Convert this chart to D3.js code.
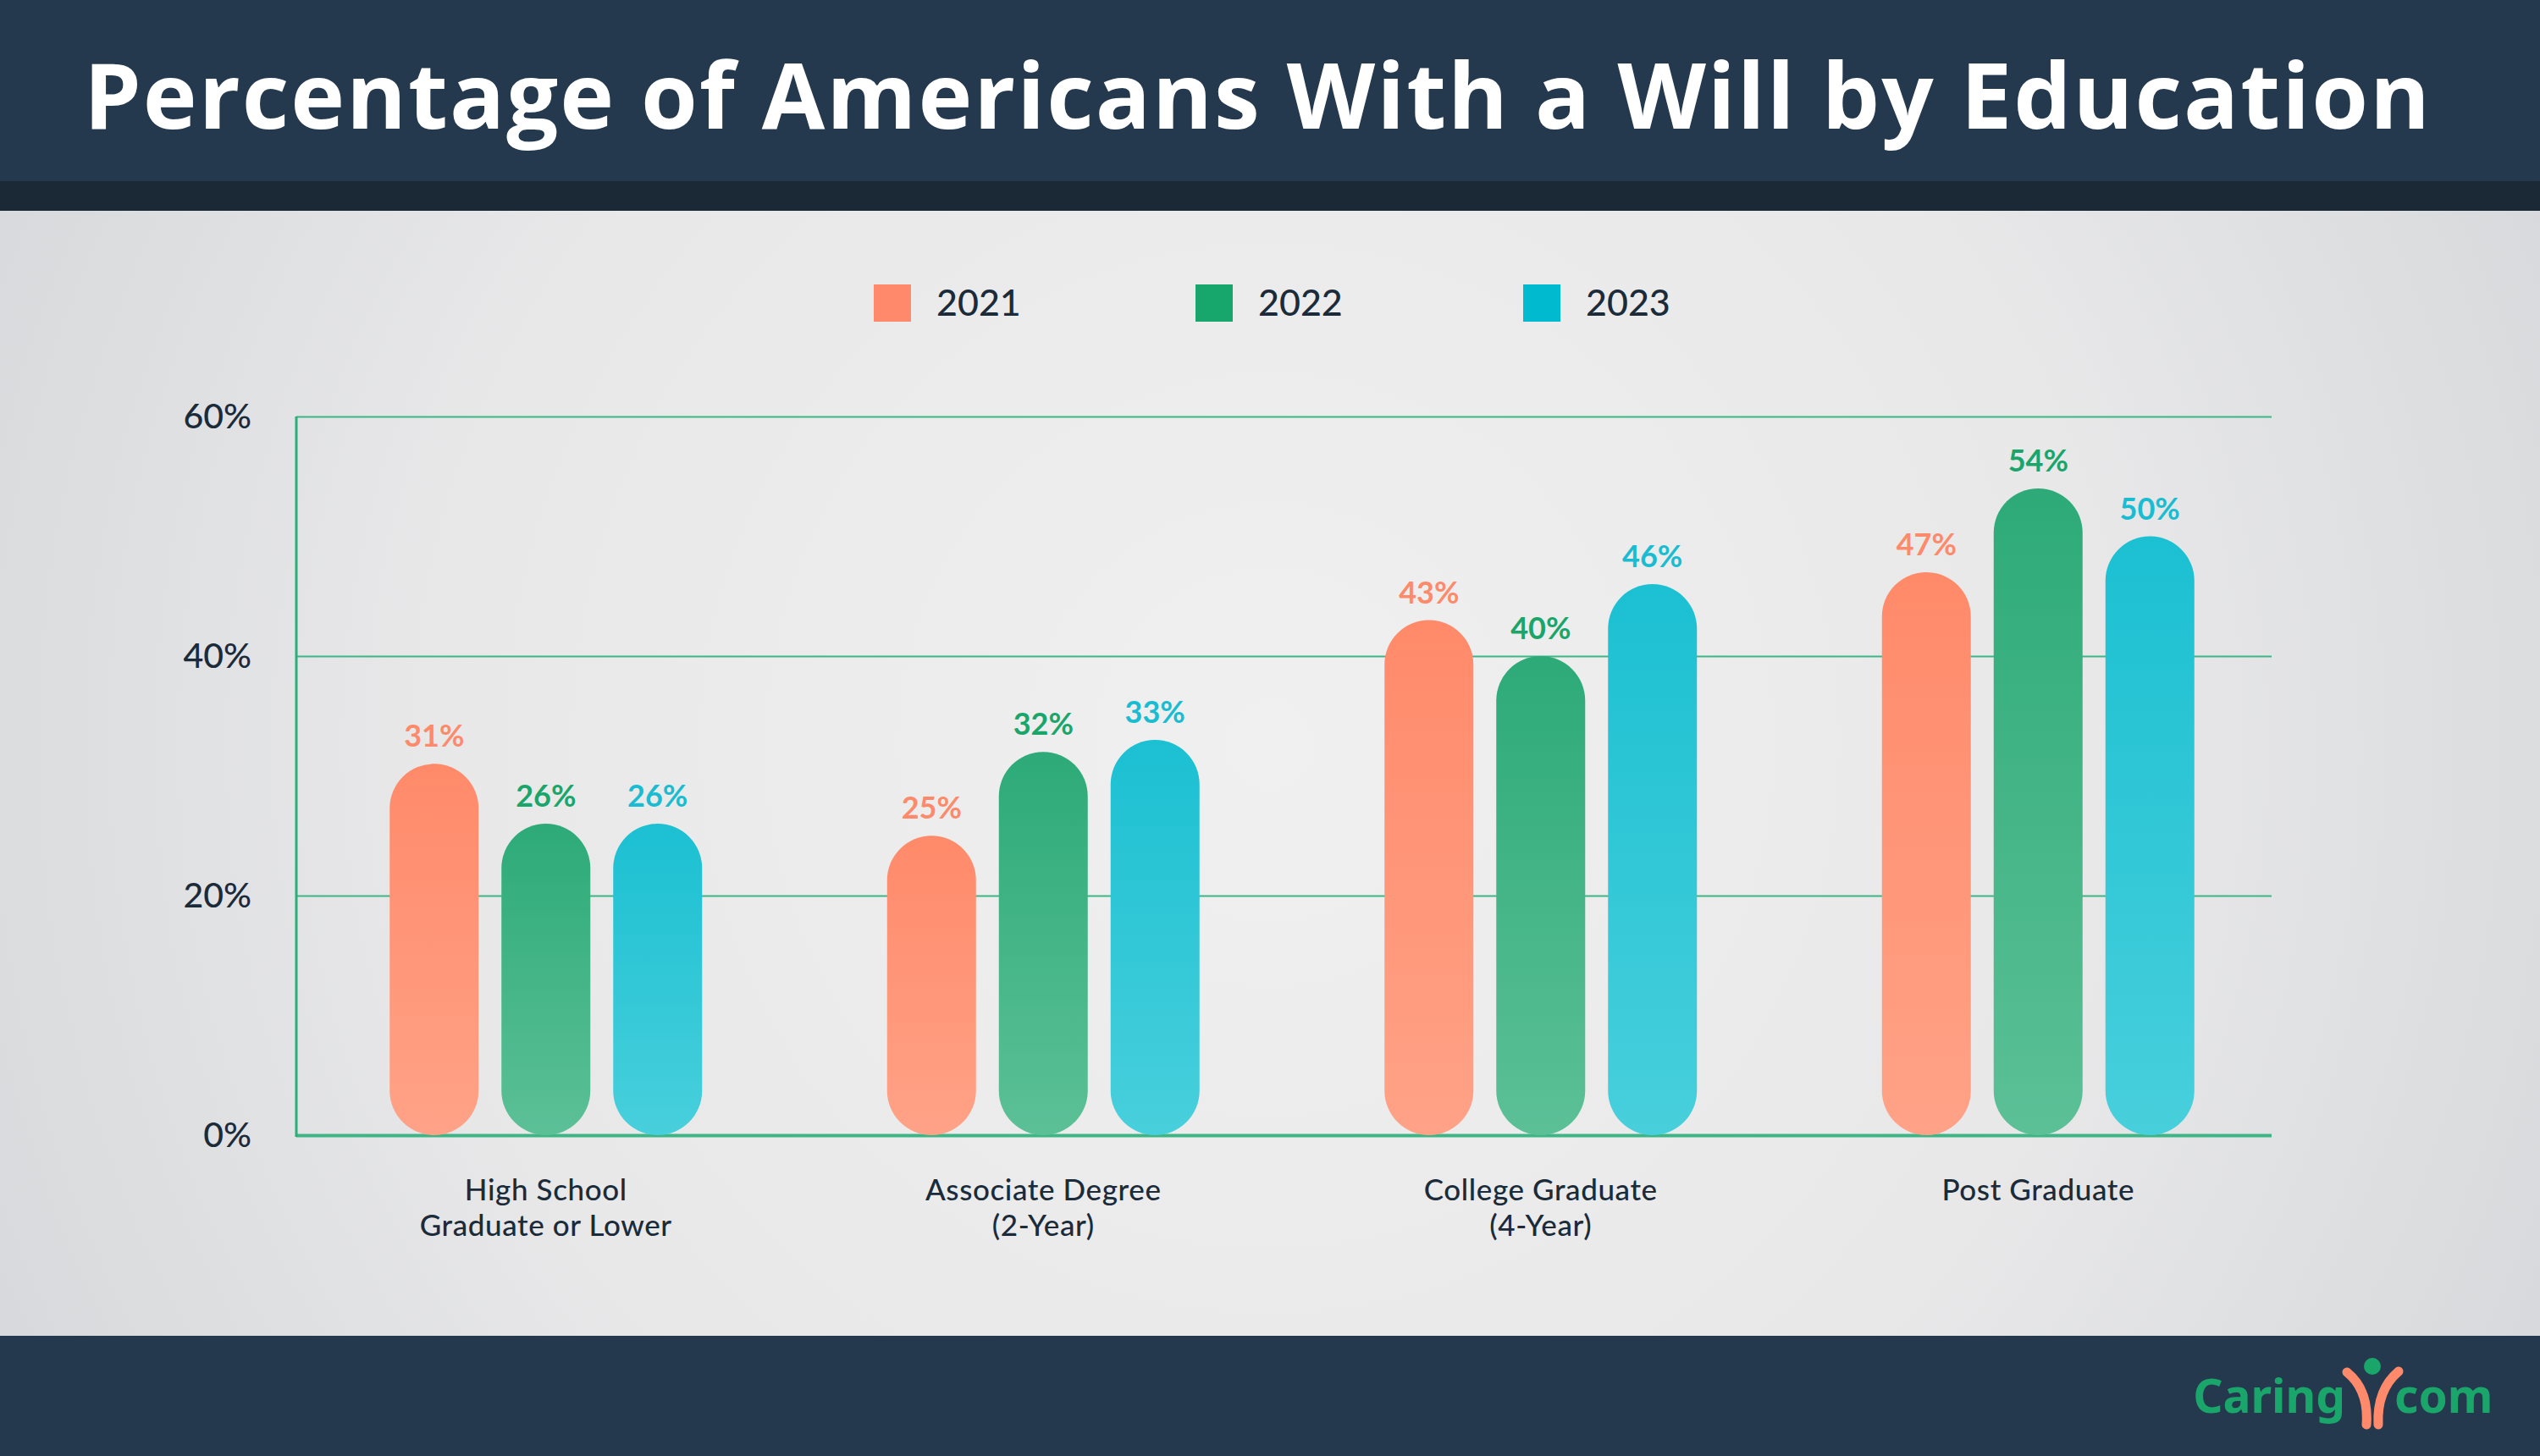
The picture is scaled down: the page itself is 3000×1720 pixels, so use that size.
<!DOCTYPE html>
<html>
<head>
<meta charset="utf-8">
<script src="https://cdn.jsdelivr.net/npm/d3@7"></script>
<style>
  html, body { margin: 0; padding: 0; background: #e6e6e7; }
  svg { display: block; }
</style>
</head>
<body>
<svg id="chart" width="3000" height="1720"></svg>
<script>
// ---- data ----
const categories = [
  ["High School", "Graduate or Lower"],
  ["Associate Degree", "(2-Year)"],
  ["College Graduate", "(4-Year)"],
  ["Post Graduate"]
];
const seriesNames = ["2021", "2022", "2023"];
const values2021 = [31, 25, 43, 47];
const values2022 = [26, 32, 40, 54];
const values2023 = [26, 33, 46, 50];
const yTicks = [0, 20, 40, 60];
const titleText = "Percentage of Americans With a Will by Education";

const seriesValues = [values2021, values2022, values2023];
const solid = ["#ff8a6b", "#17a66b", "#00bacf"];
const labelColors = ["#ff8a6b", "#1aa66b", "#19bcd1"];
const gradTop = ["#ff8a6a", "#2daa78", "#1bc0d2"];
const gradBot = ["#ffa287", "#5cc097", "#48cfdc"];

const svg = d3.select("#chart");
const W = 3000, H = 1720;
const defs = svg.append("defs");

// background gradient
const bg = defs.append("radialGradient").attr("id", "bg")
  .attr("gradientUnits", "userSpaceOnUse")
  .attr("cx", 1500).attr("cy", 880).attr("r", 1650);
bg.append("stop").attr("offset", "0").attr("stop-color", "#f0f0f0");
bg.append("stop").attr("offset", "0.6").attr("stop-color", "#e8e8e9");
bg.append("stop").attr("offset", "1").attr("stop-color", "#d8d9dc");

seriesNames.forEach((s, i) => {
  const g = defs.append("linearGradient").attr("id", "g" + i)
    .attr("x1", 0).attr("y1", 0).attr("x2", 0).attr("y2", 1);
  g.append("stop").attr("offset", "0").attr("stop-color", gradTop[i]);
  g.append("stop").attr("offset", "1").attr("stop-color", gradBot[i]);
});

svg.append("rect").attr("x", 0).attr("y", 0).attr("width", W).attr("height", H).attr("fill", "url(#bg)");

// header
svg.append("rect").attr("x", 0).attr("y", 0).attr("width", W).attr("height", 214).attr("fill", "#24384e");
svg.append("rect").attr("x", 0).attr("y", 214).attr("width", W).attr("height", 35).attr("fill", "#1b2937");
// footer
svg.append("rect").attr("x", 0).attr("y", 1578).attr("width", W).attr("height", H - 1578).attr("fill", "#24384e");

const FONT = "Lato, 'Noto Sans', sans-serif";

// title
const title = svg.append("text")
  .attr("x", 99).attr("y", 152)
  .attr("fill", "#ffffff")
  .style("font-family", "'Open Sans', 'Noto Sans', sans-serif")
  .style("font-weight", 700)
  .style("font-size", "108px")
  .text(titleText);
{
  const target = 2771;
  const w = title.node().getComputedTextLength();
  const ls = (target - w) / (titleText.length - 1);
  title.style("letter-spacing", ls + "px");
}

// scales
const x0 = d3.scaleBand().domain(d3.range(categories.length)).range([351, 2701]).padding(0);
const y = d3.scaleLinear().domain([0, 60]).range([1341, 492]);
const barW = 105, barStep = 132;
const axisLeftX = 350, axisRightX = 2683;

// gridlines
const grid = svg.append("g").attr("transform", `translate(${axisLeftX},0)`)
  .call(d3.axisLeft(y).tickValues(yTicks).tickSize(-(axisRightX - axisLeftX)).tickFormat(""));
grid.select(".domain").remove();
grid.selectAll(".tick line")
  .attr("stroke", "#3db585")
  .attr("stroke-width", d => d === 0 ? 4 : 2);

// vertical axis line
svg.append("line").attr("x1", axisLeftX).attr("x2", axisLeftX)
  .attr("y1", y(60)).attr("y2", y(0) + 2)
  .attr("stroke", "#2bae78").attr("stroke-width", 3);

// y tick labels
const yAx = svg.append("g").attr("transform", `translate(${axisLeftX},0)`)
  .call(d3.axisLeft(y).tickValues(yTicks).tickSize(0).tickPadding(53).tickFormat(d => d + "%"));
yAx.select(".domain").remove();
yAx.selectAll(".tick text")
  .attr("fill", "#1b2b3a")
  .style("font-family", FONT)
  .style("font-weight", 500)
  .style("font-size", "41px");

// bars
const groups = svg.append("g").selectAll("g").data(categories).join("g")
  .attr("transform", (d, i) => `translate(${x0(i) + x0.bandwidth() / 2},0)`);

seriesNames.forEach((s, si) => {
  const off = (si - 1) * barStep;
  groups.append("rect")
    .attr("x", off - barW / 2)
    .attr("width", barW)
    .attr("y", (d, ci) => y(seriesValues[si][ci]))
    .attr("height", (d, ci) => y(0) - y(seriesValues[si][ci]))
    .attr("rx", barW / 2).attr("ry", barW / 2)
    .attr("fill", `url(#g${si})`);
  groups.append("text")
    .attr("x", off)
    .attr("y", (d, ci) => y(seriesValues[si][ci]) - 20)
    .attr("text-anchor", "middle")
    .attr("fill", labelColors[si])
    .style("font-family", FONT)
    .style("font-weight", 700)
    .style("font-size", "36px")
    .text((d, ci) => seriesValues[si][ci] + "%");
});

// x labels (each line its own text)
groups.each(function(d) {
  const g = d3.select(this);
  g.selectAll("text.xl").data(d).join("text")
    .attr("class", "xl")
    .attr("x", 0)
    .attr("y", (t, i) => 1418 + i * 42)
    .attr("text-anchor", "middle")
    .attr("fill", "#1b2b3a")
    .style("font-family", FONT)
    .style("font-weight", 500)
    .style("font-size", "35px")
    .style("letter-spacing", "0.6px")
    .text(t => t);
});

// legend
const legendX = [1032, 1412, 1799];
const leg = svg.append("g").selectAll("g").data(seriesNames).join("g")
  .attr("transform", (d, i) => `translate(${legendX[i]},336)`);
leg.append("rect").attr("width", 44).attr("height", 44).attr("fill", (d, i) => solid[i]);
leg.append("text").attr("x", 74).attr("y", 37)
  .attr("fill", "#1b2b3a")
  .style("font-family", FONT)
  .style("font-weight", 500)
  .style("font-size", "43px")
  .text(d => d);

// logo
const logo = svg.append("g");
logo.append("text").attr("x", 2770).attr("y", 1669).attr("text-anchor", "end")
  .attr("fill", "#1aa66b")
  .style("font-family", "'Noto Sans', sans-serif").style("font-weight", 700).style("font-size", "55px")
  .text("Caring");
logo.append("text").attr("x", 2828).attr("y", 1669).attr("text-anchor", "start")
  .attr("fill", "#1aa66b")
  .style("font-family", "'Noto Sans', sans-serif").style("font-weight", 700).style("font-size", "55px")
  .text("com");
logo.append("circle").attr("cx", 2802).attr("cy", 1614).attr("r", 10).attr("fill", "#1aa66b");
logo.append("path").attr("d", "M2772,1621 Q2798,1642 2795,1683")
  .attr("fill", "none").attr("stroke", "#ff8a6b").attr("stroke-width", 11).attr("stroke-linecap", "round");
logo.append("path").attr("d", "M2833,1620 Q2807,1642 2809,1683")
  .attr("fill", "none").attr("stroke", "#ff8a6b").attr("stroke-width", 11).attr("stroke-linecap", "round");
</script>
</body>
</html>
